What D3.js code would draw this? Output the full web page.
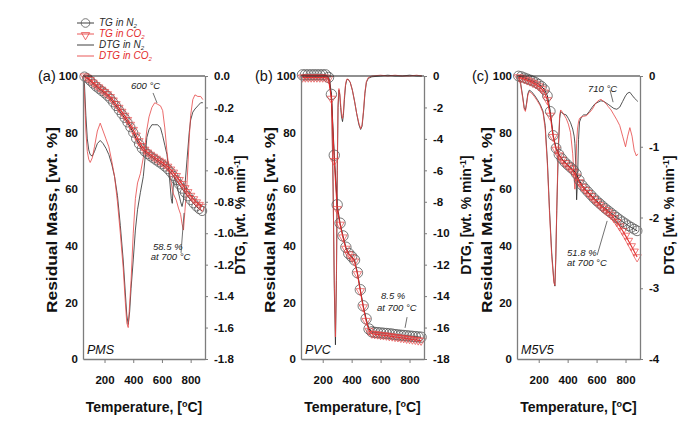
<!DOCTYPE html>
<html><head><meta charset="utf-8">
<script src="https://cdn.jsdelivr.net/npm/d3@7/dist/d3.min.js"></script>
<style>body{margin:0;background:#fff}svg{display:block}</style>
</head><body><svg id="c" width="686" height="438"></svg>
<script>
// ---------------- DATA ----------------
const tempDomain = [50, 900];
const tempTicks = [200, 400, 600, 800];
const massTicks = [0, 20, 40, 60, 80, 100];
const pmsDtgTicks = [0, -0.2, -0.4, -0.6, -0.8, -1.0, -1.2, -1.4, -1.6, -1.8];
const pvcDtgTicks = [0, -2, -4, -6, -8, -10, -12, -14, -16, -18];
const m5v5DtgTicks = [0, -1, -2, -3, -4];

// TG temperatures (marker positions)
const tgTemp = [60,80,100,120,140,160,180,200,220,240,260,280,300,320,340,360,380,400,420,440,460,480,500,520,540,560,580,600,620,640,660,680,700,720,740,760,780,800,820,840,860,880];

// PMS
const pmsTgN2 = [99.8,99.2,98.3,97.3,96.3,95.5,94.7,93.9,93.0,92.0,90.7,89.4,88.0,86.6,85.2,83.6,81.9,80.0,77.9,76.0,74.4,73.3,72.4,71.6,70.9,70.2,69.5,68.8,68.0,67.1,66.0,64.7,63.2,61.7,60.2,58.8,57.5,56.2,55.0,53.9,53.0,52.3];
const pmsTgCO2 = [99.9,99.4,98.6,97.7,96.8,96.0,95.2,94.4,93.6,92.6,91.4,90.1,88.8,87.4,86.0,84.5,82.8,81.0,79.0,77.0,75.3,74.0,73.0,72.2,71.5,70.8,70.1,69.5,68.8,68.0,67.0,65.9,64.7,63.3,61.9,60.4,59.0,57.7,56.5,55.4,54.5,53.8];
const pmsDtgT = [50,60,70,80,90,100,115,130,150,170,190,210,230,250,270,290,310,330,345,355,365,375,385,400,415,430,450,470,485,495,510,530,550,570,590,605,620,635,650,665,672,680,690,700,715,730,740,750,760,775,790,800,815,830,850,870,885];
const pmsDtgN2 = [0,-0.05,-0.25,-0.40,-0.47,-0.50,-0.51,-0.48,-0.43,-0.41,-0.43,-0.46,-0.50,-0.56,-0.64,-0.76,-0.95,-1.17,-1.38,-1.52,-1.58,-1.50,-1.35,-1.17,-0.98,-0.85,-0.74,-0.64,-0.50,-0.39,-0.34,-0.31,-0.31,-0.31,-0.33,-0.38,-0.44,-0.50,-0.62,-0.78,-0.81,-0.68,-0.64,-0.68,-0.74,-0.80,-0.83,-0.79,-0.70,-0.53,-0.36,-0.28,-0.23,-0.21,-0.19,-0.17,-0.17];
const pmsDtgCO2 = [0,-0.10,-0.35,-0.48,-0.53,-0.55,-0.52,-0.45,-0.35,-0.30,-0.35,-0.40,-0.45,-0.54,-0.64,-0.80,-1.00,-1.22,-1.44,-1.57,-1.60,-1.45,-1.30,-1.00,-0.78,-0.68,-0.62,-0.52,-0.42,-0.34,-0.26,-0.20,-0.17,-0.18,-0.19,-0.22,-0.33,-0.48,-0.60,-0.68,-0.72,-0.75,-0.77,-0.79,-0.84,-0.88,-0.94,-0.98,-0.86,-0.68,-0.40,-0.25,-0.15,-0.12,-0.13,-0.13,-0.15];

// PVC
const pvcTgN2 = [100.4,100.4,100.4,100.4,100.4,100.4,100.4,100.4,100.4,99.5,93.5,72.0,54.5,48.0,43.5,39.5,37.3,36.2,35.0,30.5,24.5,18.8,14.2,10.6,9.6,9.4,9.3,9.2,9.1,9.0,8.9,8.8,8.6,8.5,8.4,8.3,8.2,8.1,8.0,7.9,7.8,7.7];
const pvcTgCO2 = [99.5,99.5,99.5,99.5,99.5,99.5,99.5,99.5,99.5,99.0,92.0,70.0,53.0,47.5,43.0,39.0,37.0,36.0,34.5,30.0,24.0,18.3,13.5,10.0,9.0,8.8,8.7,8.5,8.4,8.3,8.1,8.0,7.8,7.7,7.5,7.4,7.2,7.1,6.9,6.8,6.6,6.5];
const pvcDtgT = [50,100,150,200,230,250,262,272,280,288,295,301,306,312,318,324,330,337,343,350,358,366,375,390,405,420,435,450,462,472,482,492,502,515,540,600,650,700,750,800,850,885];
const pvcDtgN2 = [0.05,0.05,0,0.05,0,-0.3,-1.5,-7,-13.5,-17.1,-13,-6,-2,-0.9,-1.2,-2.0,-2.6,-2.9,-2.5,-1.5,-0.6,-0.25,-0.2,-0.4,-0.9,-1.6,-2.4,-3.1,-3.4,-3.2,-2.3,-1.1,-0.4,-0.15,-0.05,0,0.05,0,0,0.05,0,0];
const pvcDtgCO2 = [0,0,0.05,0,0,-0.4,-1.8,-7.5,-13,-16.6,-12.5,-5.5,-1.8,-0.8,-1.1,-1.8,-2.4,-2.7,-2.3,-1.3,-0.5,-0.2,-0.2,-0.4,-0.9,-1.6,-2.4,-3.0,-3.35,-3.1,-2.2,-1.0,-0.35,-0.1,0,0.05,0,0.05,0,0,0.05,0];

// M5V5
const m5v5TgN2 = [100,99.8,99.4,99.0,98.6,98.2,97.7,97.1,96.3,95.2,93.0,87.5,79.0,74.5,72.3,70.8,69.6,68.6,67.7,66.8,65.4,63.2,61.4,60.2,59.1,58.0,56.9,55.9,55.0,54.1,53.2,52.4,51.6,50.8,50.0,49.2,48.5,47.8,47.1,46.5,45.9,45.3];
const m5v5TgCO2 = [99.6,99.3,98.9,98.5,98.1,97.6,97.1,96.4,95.5,94.2,91.5,86.0,78.5,74.0,72.0,70.5,69.3,68.3,67.3,66.2,64.5,62.5,60.9,59.8,58.7,57.6,56.5,55.5,54.5,53.6,52.7,51.9,51.0,49.8,48.4,46.9,45.3,43.6,41.8,39.9,38.0,36.0];
const m5v5DtgT = [50,60,75,90,100,108,115,125,135,150,170,190,210,230,245,260,275,290,305,312,318,325,335,345,352,360,375,390,405,420,435,445,450,457,462,468,475,482,495,510,530,550,570,590,610,630,650,665,680,700,720,740,760,780,800,815,830,845,860,875,885];
const m5v5DtgN2 = [0,-0.02,-0.1,-0.3,-0.45,-0.48,-0.4,-0.25,-0.2,-0.22,-0.27,-0.33,-0.4,-0.5,-0.7,-1.2,-1.9,-2.5,-2.9,-2.97,-2.6,-1.9,-1.1,-0.6,-0.5,-0.52,-0.54,-0.55,-0.6,-0.66,-0.75,-0.85,-0.95,-1.3,-1.75,-1.5,-0.9,-0.65,-0.58,-0.55,-0.55,-0.5,-0.44,-0.39,-0.37,-0.35,-0.36,-0.38,-0.40,-0.43,-0.46,-0.47,-0.44,-0.36,-0.28,-0.24,-0.23,-0.27,-0.31,-0.34,-0.36];
const m5v5DtgCO2 = [0,-0.03,-0.12,-0.32,-0.47,-0.5,-0.42,-0.27,-0.22,-0.24,-0.29,-0.35,-0.42,-0.52,-0.75,-1.25,-1.95,-2.55,-2.92,-2.96,-2.55,-1.85,-1.0,-0.55,-0.48,-0.5,-0.55,-0.6,-0.68,-0.8,-1.1,-1.45,-1.6,-1.3,-0.95,-0.75,-0.65,-0.6,-0.58,-0.57,-0.56,-0.52,-0.47,-0.40,-0.35,-0.33,-0.36,-0.39,-0.43,-0.48,-0.55,-0.62,-0.70,-0.85,-1.0,-0.85,-0.73,-0.85,-1.05,-1.13,-1.1];

const legendLabels = [["TG in N", "2"], ["TG in CO", "2"], ["DTG in N", "2"], ["DTG in CO", "2"]];

// ---------------- LAYOUT / STYLE ----------------
const svg = d3.select('#c');
const FN = "'Liberation Sans Narrow','Arial Narrow',sans-serif";
const FB = "'Liberation Sans',Arial,sans-serif";
const RED = '#e32b2b', REDL = '#e64545', BLK = '#2a2a2a', MK = '#555', GRY = '#7d7d7d';
const yTop = 76, yBot = 359;

const panels = [
  { x0: 83, x1: 205, tag: '(a)', tagX: 38, name: 'PMS', rDomain: [0, -1.8], rTicks: pmsDtgTicks, rFmt: d => d.toFixed(1),
    tgN2: pmsTgN2, tgCO2: pmsTgCO2, dT: pmsDtgT, dN2: pmsDtgN2, dCO2: pmsDtgCO2, r: 4.6,
    massTitleX: 52, dtgTitleX: 240,
    notes: [
      { axis: 'R', T: 384, v: -0.082, lines: ['600 \u00B0C'] },
      { axis: 'L', T: 538, v: 38.5, lines: ['58.5 %'] },
      { axis: 'L', T: 522, v: 35.0, lines: ['at 700 \u00B0C'] }],
    leaders: [{ axis: 'R', T1: 538, v1: -0.108, T2: 566, v2: -0.172 },
              { axis: 'L', T1: 733, v1: 37.5, T2: 754, v2: 51.6 }] },
  { x0: 301, x1: 424, tag: '(b)', tagX: 255, name: 'PVC', rDomain: [0, -18], rTicks: pvcDtgTicks, rFmt: d => String(d),
    tgN2: pvcTgN2, tgCO2: pvcTgCO2, dT: pvcDtgT, dN2: pvcDtgN2, dCO2: pvcDtgCO2, r: 5.2,
    massTitleX: 270, dtgTitleX: 466,
    notes: [
      { axis: 'L', T: 603, v: 21.2, lines: ['8.5 %'] },
      { axis: 'L', T: 575, v: 17.0, lines: ['at 700 \u00B0C'] }],
    leaders: [{ axis: 'L', T1: 783, v1: 14.8, T2: 769, v2: 11.0 }] },
  { x0: 517, x1: 640, tag: '(c)', tagX: 472, name: 'M5V5', rDomain: [0, -4], rTicks: m5v5DtgTicks, rFmt: d => String(d),
    tgN2: m5v5TgN2, tgCO2: m5v5TgCO2, dT: m5v5DtgT, dN2: m5v5DtgN2, dCO2: m5v5DtgCO2, r: 4.9,
    massTitleX: 487, dtgTitleX: 669,
    notes: [
      { axis: 'R', T: 541, v: -0.22, lines: ['710 \u00B0C'] },
      { axis: 'L', T: 396, v: 36.4, lines: ['51.8 %'] },
      { axis: 'L', T: 396, v: 32.9, lines: ['at 700 \u00B0C'] }],
    leaders: [{ axis: 'R', T1: 693, v1: -0.20, T2: 714, v2: -0.37 },
              { axis: 'L', T1: 604, v1: 36.7, T2: 673, v2: 48.8 }] }
];

function styleAxis(g) {
  g.select('.domain').attr('stroke', GRY).attr('stroke-width', 1.3);
  g.selectAll('.tick line').attr('stroke', GRY).attr('stroke-width', 1);
  g.selectAll('.tick text').attr('fill', '#111').attr('font-family', FN)
    .attr('font-weight', 'bold').attr('font-size', 11.5);
}

const triangle = d3.symbol().type(d3.symbolTriangle).size(30);

panels.forEach(p => {
  const x = d3.scaleLinear().domain(tempDomain).range([p.x0, p.x1]);
  const yL = d3.scaleLinear().domain([0, 100]).range([yBot, yTop]);
  const yR = d3.scaleLinear().domain(p.rDomain).range([yTop, yBot]);
  const g = svg.append('g');

  // DTG lines
  const dLine = arr => d3.line().x((d, i) => x(p.dT[i])).y(d => yR(d))(arr);
  g.append('path').attr('d', dLine(p.dN2)).attr('fill', 'none').attr('stroke', BLK).attr('stroke-width', 0.8);
  g.append('path').attr('d', dLine(p.dCO2)).attr('fill', 'none').attr('stroke', REDL).attr('stroke-width', 0.8);

  // TG lines + markers
  const tLine = arr => d3.line().x((d, i) => x(tgTemp[i])).y(d => yL(d))(arr);
  g.append('path').attr('d', tLine(p.tgN2)).attr('fill', 'none').attr('stroke', BLK).attr('stroke-width', 1);
  g.selectAll('circle.n2').data(p.tgN2).join('circle').attr('class', 'n2')
    .attr('cx', (d, i) => x(tgTemp[i])).attr('cy', d => yL(d)).attr('r', p.r)
    .attr('fill', 'none').attr('stroke', MK).attr('stroke-width', 0.8);
  g.append('path').attr('d', tLine(p.tgCO2)).attr('fill', 'none').attr('stroke', RED).attr('stroke-width', 1.1);
  g.selectAll('path.co2').data(p.tgCO2).join('path').attr('class', 'co2')
    .attr('d', triangle)
    .attr('transform', (d, i) => `translate(${x(tgTemp[i])},${yL(d)}) rotate(180)`)
    .attr('fill', 'none').attr('stroke', REDL).attr('stroke-width', 0.7);

  // frame top
  g.append('line').attr('x1', p.x0).attr('x2', p.x1).attr('y1', yTop).attr('y2', yTop)
    .attr('stroke', '#222').attr('stroke-width', 1.1);

  // axes
  g.append('g').attr('transform', `translate(${p.x0},0)`)
    .call(d3.axisLeft(yL).tickValues(massTicks).tickSize(0).tickSizeOuter(0).tickPadding(5).tickFormat(d3.format('d')))
    .call(styleAxis);
  g.append('g').attr('transform', `translate(${p.x1},0)`)
    .call(d3.axisRight(yR).tickValues(p.rTicks).tickSize(3).tickSizeOuter(0).tickPadding(6).tickFormat(p.rFmt))
    .call(styleAxis);
  g.append('g').attr('transform', `translate(0,${yBot})`)
    .call(d3.axisBottom(x).tickValues(tempTicks).tickSize(4).tickSizeOuter(0).tickPadding(13).tickFormat(d3.format('d')))
    .call(styleAxis);

  // titles
  const xt = g.append('text').attr('x', (p.x0 + p.x1) / 2).attr('y', 412).attr('text-anchor', 'middle')
    .attr('font-family', FN).attr('font-weight', 'bold').attr('font-size', 14).attr('fill', '#111');
  xt.append('tspan').text('Temperature, [');
  xt.append('tspan').attr('dy', -5).attr('font-size', 9).text('o');
  xt.append('tspan').attr('dy', 5).text('C]');

  g.append('text').attr('transform', `translate(${p.massTitleX + 5},220) rotate(-90)`)
    .attr('text-anchor', 'middle').attr('font-family', FB).attr('font-weight', 'bold').attr('font-size', 14)
    .attr('fill', '#111').attr('textLength', 186).attr('lengthAdjust', 'spacingAndGlyphs')
    .text('Residual Mass, [wt. %]');

  const dt = g.append('text').attr('transform', `translate(${p.dtgTitleX + 5},215) rotate(-90)`)
    .attr('text-anchor', 'middle').attr('font-family', FB).attr('font-weight', 'bold').attr('font-size', 14)
    .attr('fill', '#111');
  dt.append('tspan').text('DTG, [wt. % min');
  dt.append('tspan').attr('dy', -5).attr('font-size', 9).text('-1');
  dt.append('tspan').attr('dy', 5).text(']');

  g.append('text').attr('x', p.tagX).attr('y', 81).attr('font-family', FN).attr('font-size', 14.5)
    .attr('fill', '#111').text(p.tag);
  g.append('text').attr('x', p.x0 + 4).attr('y', yBot - 5).attr('font-family', FN).attr('font-style', 'italic')
    .attr('font-size', 12.5).attr('fill', '#111').text(p.name);

  // annotations
  p.notes.forEach(n => {
    const yy = n.axis === 'L' ? yL(n.v) : yR(n.v);
    g.append('text').attr('x', x(n.T)).attr('y', yy).attr('font-family', FN).attr('font-style', 'italic')
      .attr('font-size', 9.5).attr('fill', '#222').text(n.lines[0]);
  });
  p.leaders.forEach(l => {
    const ys = l.axis === 'L' ? yL : yR;
    g.append('line').attr('x1', x(l.T1)).attr('y1', ys(l.v1)).attr('x2', x(l.T2)).attr('y2', ys(l.v2))
      .attr('stroke', '#333').attr('stroke-width', 0.7);
  });
});

// legend
const lg = svg.append('g');
const rowsY = [26, 37, 48, 59];
legendLabels.forEach((lab, i) => {
  const y = rowsY[i];
  const col = (i % 2 === 0) ? BLK : RED;
  lg.append('line').attr('x1', 77).attr('x2', 94).attr('y1', y - 3).attr('y2', y - 3)
    .attr('stroke', i % 2 === 0 ? BLK : REDL).attr('stroke-width', 0.9);
  if (i === 0) lg.append('circle').attr('cx', 85.5).attr('cy', y - 3).attr('r', 4.3)
    .attr('fill', 'none').attr('stroke', MK).attr('stroke-width', 0.8);
  if (i === 1) lg.append('path').attr('d', triangle).attr('transform', `translate(85.5,${y - 2}) rotate(180)`)
    .attr('fill', 'none').attr('stroke', REDL).attr('stroke-width', 0.8);
  const t = lg.append('text').attr('x', 99).attr('y', y).attr('font-family', FN).attr('font-style', 'italic')
    .attr('font-size', 10).attr('fill', col);
  t.append('tspan').text(lab[0]);
  t.append('tspan').attr('dy', 1.5).attr('font-size', 6).text(lab[1]);
});
</script></body></html>
